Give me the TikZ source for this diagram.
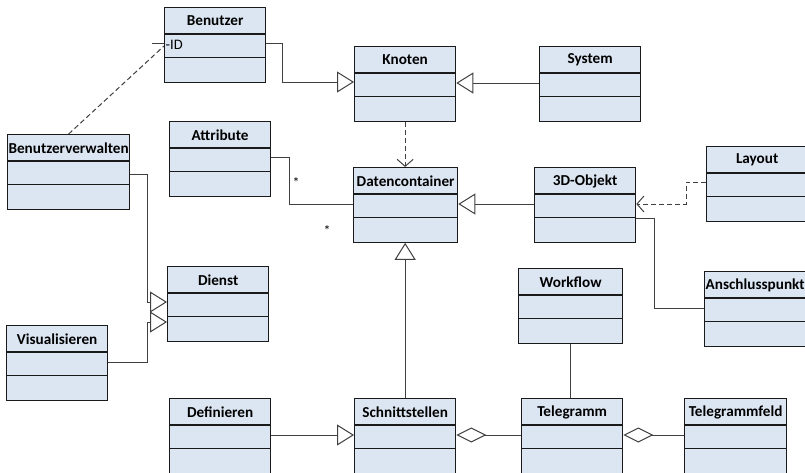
\documentclass[tikz,border=0pt]{standalone}
\usepackage{fontspec}
\setmainfont{Carlito}
\usetikzlibrary{arrows.meta}
\definecolor{classfill}{HTML}{DCE6F2}
\definecolor{classborder}{HTML}{1A1A1A}
\definecolor{linegray}{HTML}{404040}

\tikzset{
  classbox/.style={draw=classborder, line width=1.3pt, fill=classfill,
    minimum height=74.5pt, inner sep=0pt, anchor=north west},
  classtitle/.style={font=\bfseries\fontsize{15.2}{18}\selectfont, inner sep=0pt},
  sepline/.style={draw=classborder, line width=1.3pt},
  assoc/.style={draw=linegray, line width=1pt},
  gen/.style={assoc, -{Triangle[open, length=17pt, width=21pt, fill=white]}},
  dep/.style={assoc, dash pattern=on 5pt off 3pt},
  deparrow/.style={dep, -{Straight Barb[length=7pt, width=16pt]}},
  aggr/.style={assoc, -{Diamond[open, length=30pt, width=15pt, fill=white]}},
  mult/.style={font=\fontsize{14}{16}\selectfont, inner sep=0pt},
}

% class box: name, left, top, width, title
\newcommand\umlclass[5]{%
  \node[classbox, minimum width=#4pt] (#1) at (#2,#3) {};
  \node[classtitle] (#1-title) at ([yshift=-14pt]#1.north) {#5};
  \draw[sepline] ([yshift=-27pt]#1.north west) -- ([yshift=-27pt]#1.north east);
  \draw[sepline] ([yshift=-50.5pt]#1.north west) -- ([yshift=-50.5pt]#1.north east);
}

\begin{document}
\begin{tikzpicture}[x=1pt, y=-1pt]
\useasboundingbox (0,0) rectangle (805,472);
\clip (0,0) rectangle (805,472);

% classes
\umlclass{benutzer}{164}{7}{101}{Benutzer}
\umlclass{knoten}{354}{46}{101}{Knoten}
\umlclass{system}{539}{46}{101}{System}
\umlclass{attribute}{169}{121}{101}{Attribute}
\umlclass{benutzerverwalten}{7}{134}{122}{Benutzerverwalten}
\umlclass{datencontainer}{353}{167}{104}{Datencontainer}
\umlclass{objekt}{534}{167}{101}{3D-Objekt}
\umlclass{layout}{706}{146}{101}{Layout}
\umlclass{anschluss}{704}{271}{101}{Anschlusspunkt}
\umlclass{dienst}{167}{266}{101}{Dienst}
\umlclass{visualisieren}{6}{325}{101}{Visualisieren}
\umlclass{workflow}{518}{268}{104}{Workflow}
\umlclass{definieren}{169}{398}{101}{Definieren}
\umlclass{schnittstellen}{354}{398}{101}{Schnittstellen}
\umlclass{telegramm}{521}{398}{101}{Telegramm}
\umlclass{telegrammfeld}{684}{398}{102}{Telegrammfeld}

% attribute of Benutzer
\node[anchor=west, font=\fontsize{14.5}{17}\selectfont, inner sep=0pt] (id) at ([xshift=1.5pt]benutzer.west |- 0,45) {-ID};

% connectors
\draw[gen] (benutzer.east |- 0,43) -- (282,43) |- (knoten.west |- 0,82);
\draw[gen] (system.west |- 0,83) -- (knoten.east |- 0,83);
\draw[deparrow] (knoten.south) -- (knoten.south |- datencontainer.north);
\draw[assoc] (attribute.east |- 0,157) -| (289,204) -- (datencontainer.west |- 0,204);
\draw[gen] (objekt.west |- 0,204) -- (datencontainer.east |- 0,204);
\draw[deparrow] (layout.west |- 0,182) -| (686,204) -- (objekt.east |- 0,204);
\draw[assoc] (objekt.east |- 0,218) -| (654,308) -- (anschluss.west |- 0,308);
\draw[gen] (benutzerverwalten.east |- 0,174) -| (147,302) -- (dienst.west |- 0,302);
\draw[gen] (visualisieren.east |- 0,362) -| (147,322) -- (dienst.west |- 0,322);
\draw[gen] (schnittstellen.north) -- (schnittstellen.north |- datencontainer.south);
\draw[gen] (definieren.east |- 0,435) -- (schnittstellen.west |- 0,435);
\draw[aggr] (telegramm.west |- 0,435) -- (schnittstellen.east |- 0,435);
\draw[aggr] (telegrammfeld.west |- 0,435) -- (telegramm.east |- 0,435);
\draw[assoc] (workflow.south) -- (workflow.south |- telegramm.north);
\draw[dep] (benutzerverwalten.north) -- (benutzer.west |- 0,46);
\draw[assoc] (benutzer.west |- 0,43) -- ++(-12,0);

% multiplicities
\node[mult] (m1) at (296,183) {*};
\node[mult] (m2) at (327,231) {*};
\end{tikzpicture}
\end{document}
